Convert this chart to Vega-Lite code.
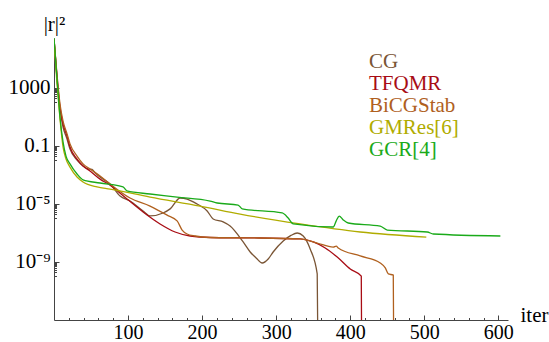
{
  "$schema": "https://vega.github.io/schema/vega-lite/v6.json",
  "autosize": {"type": "none"},
  "width": 454,
  "height": 282,
  "padding": {"left": 54, "top": 38, "right": 41, "bottom": 22},
  "config": {"view": {"stroke": null}, "font": "Liberation Serif"},
  "data": {"values": [
    {"s":"CG","x":0,"y":2.4e6},{"s":"CG","x":4.1,"y":4200},{"s":"CG","x":8.1,"y":35},{"s":"CG","x":12.2,"y":2.0},{"s":"CG","x":17.6,"y":0.30},{"s":"CG","x":21.6,"y":0.062},{"s":"CG","x":31.1,"y":0.0107},{"s":"CG","x":39.2,"y":0.0042},{"s":"CG","x":45.9,"y":0.0026},{"s":"CG","x":51.4,"y":0.0024},{"s":"CG","x":55.4,"y":0.0014},{"s":"CG","x":66.2,"y":5.2e-4},{"s":"CG","x":75.7,"y":2.4e-4},{"s":"CG","x":89.2,"y":3.5e-5},{"s":"CG","x":102.7,"y":1.6e-5},{"s":"CG","x":120.3,"y":3.3e-6},{"s":"CG","x":129.7,"y":1.5e-6},{"s":"CG","x":147.3,"y":2.4e-6},{"s":"CG","x":156.8,"y":4.6e-6},{"s":"CG","x":170.3,"y":2.6e-5},{"s":"CG","x":179.7,"y":2.2e-5},{"s":"CG","x":193.2,"y":1.0e-5},{"s":"CG","x":206.8,"y":3.3e-6},{"s":"CG","x":214.9,"y":9.3e-7},{"s":"CG","x":228.4,"y":5.8e-7},{"s":"CG","x":237.8,"y":3.0e-7},{"s":"CG","x":255.4,"y":2.4e-8},{"s":"CG","x":264.9,"y":4.9e-9},{"s":"CG","x":273,"y":1.9e-9},{"s":"CG","x":281.1,"y":8.5e-10},{"s":"CG","x":289.2,"y":1.6e-9},{"s":"CG","x":295.9,"y":4.9e-9},{"s":"CG","x":309.5,"y":2.8e-8},{"s":"CG","x":320,"y":6.8e-8},{"s":"CG","x":328.4,"y":1.0e-7},{"s":"CG","x":336.5,"y":6.2e-8},{"s":"CG","x":345.9,"y":7.9e-9},{"s":"CG","x":355.4,"y":1.5e-10},{"s":"CG","x":356.5,"y":1e-16},
    {"s":"TFQMR","x":0,"y":2.4e6},{"s":"TFQMR","x":4.1,"y":5700},{"s":"TFQMR","x":8.1,"y":49},{"s":"TFQMR","x":12.2,"y":3.3},{"s":"TFQMR","x":17.6,"y":0.49},{"s":"TFQMR","x":21.6,"y":0.085},{"s":"TFQMR","x":31.1,"y":0.0126},{"s":"TFQMR","x":39.2,"y":0.0042},{"s":"TFQMR","x":48.6,"y":0.0019},{"s":"TFQMR","x":62.2,"y":5.2e-4},{"s":"TFQMR","x":75.7,"y":2.0e-4},{"s":"TFQMR","x":98.6,"y":2.2e-5},{"s":"TFQMR","x":120.3,"y":2.8e-6},{"s":"TFQMR","x":143.2,"y":4.2e-7},{"s":"TFQMR","x":163.5,"y":1.17e-7},{"s":"TFQMR","x":183.8,"y":6.2e-8},{"s":"TFQMR","x":210.8,"y":4.9e-8},{"s":"TFQMR","x":264.9,"y":4.6e-8},{"s":"TFQMR","x":332.4,"y":3.9e-8},{"s":"TFQMR","x":350,"y":2.4e-8},{"s":"TFQMR","x":366.2,"y":9.3e-9},{"s":"TFQMR","x":382.4,"y":2.2e-9},{"s":"TFQMR","x":400,"y":3.3e-10},{"s":"TFQMR","x":414.9,"y":1.07e-10},{"s":"TFQMR","x":415.5,"y":1e-16},
    {"s":"BiCGStab","x":0,"y":2.4e6},{"s":"BiCGStab","x":4.1,"y":7900},{"s":"BiCGStab","x":8.1,"y":79},{"s":"BiCGStab","x":12.2,"y":5.2},{"s":"BiCGStab","x":17.6,"y":0.68},{"s":"BiCGStab","x":21.6,"y":0.14},{"s":"BiCGStab","x":31.1,"y":0.020},{"s":"BiCGStab","x":39.2,"y":0.0058},{"s":"BiCGStab","x":48.6,"y":0.0026},{"s":"BiCGStab","x":62.2,"y":8.5e-4},{"s":"BiCGStab","x":75.7,"y":2.4e-4},{"s":"BiCGStab","x":102.7,"y":2.6e-5},{"s":"BiCGStab","x":129.7,"y":7.2e-6},{"s":"BiCGStab","x":152.7,"y":1.7e-6},{"s":"BiCGStab","x":166.2,"y":6.8e-7},{"s":"BiCGStab","x":173,"y":1.6e-7},{"s":"BiCGStab","x":179.7,"y":8.5e-8},{"s":"BiCGStab","x":190.5,"y":6.2e-8},{"s":"BiCGStab","x":210.8,"y":4.9e-8},{"s":"BiCGStab","x":264.9,"y":4.6e-8},{"s":"BiCGStab","x":332.4,"y":3.9e-8},{"s":"BiCGStab","x":355.4,"y":2.0e-8},{"s":"BiCGStab","x":377,"y":1.07e-8},{"s":"BiCGStab","x":381.1,"y":1.26e-8},{"s":"BiCGStab","x":383.8,"y":9.3e-9},{"s":"BiCGStab","x":413.5,"y":2.6e-9},{"s":"BiCGStab","x":440.5,"y":8.5e-10},{"s":"BiCGStab","x":447.3,"y":3.9e-10},{"s":"BiCGStab","x":451.4,"y":1.5e-10},{"s":"BiCGStab","x":458.1,"y":1.26e-10},{"s":"BiCGStab","x":458.8,"y":1e-16},
    {"s":"GMRes[6]","x":0,"y":1.7e6},{"s":"GMRes[6]","x":4.1,"y":1900},{"s":"GMRes[6]","x":8.1,"y":7.3},{"s":"GMRes[6]","x":12.2,"y":0.085},{"s":"GMRes[6]","x":16.2,"y":0.0126},{"s":"GMRes[6]","x":21.6,"y":0.0035},{"s":"GMRes[6]","x":31.1,"y":7.2e-4},{"s":"GMRes[6]","x":39.2,"y":3.3e-4},{"s":"GMRes[6]","x":58.1,"y":1.5e-4},{"s":"GMRes[6]","x":75.7,"y":1.07e-4},{"s":"GMRes[6]","x":129.7,"y":3.0e-5},{"s":"GMRes[6]","x":197.3,"y":7.2e-6},{"s":"GMRes[6]","x":251.4,"y":2.0e-6},{"s":"GMRes[6]","x":332.4,"y":4.2e-7},{"s":"GMRes[6]","x":413.5,"y":1.17e-7},{"s":"GMRes[6]","x":502.7,"y":5.2e-8},
    {"s":"GCR[4]","x":0,"y":2.8e6},{"s":"GCR[4]","x":4.1,"y":4200},{"s":"GCR[4]","x":8.1,"y":10},{"s":"GCR[4]","x":12.2,"y":0.19},{"s":"GCR[4]","x":16.2,"y":0.020},{"s":"GCR[4]","x":21.6,"y":0.0058},{"s":"GCR[4]","x":31.1,"y":0.00117},{"s":"GCR[4]","x":39.2,"y":4.6e-4},{"s":"GCR[4]","x":62.2,"y":2.8e-4},{"s":"GCR[4]","x":93.2,"y":1.5e-4},{"s":"GCR[4]","x":98.6,"y":7.9e-5},{"s":"GCR[4]","x":129.7,"y":4.9e-5},{"s":"GCR[4]","x":166.2,"y":3.0e-5},{"s":"GCR[4]","x":210.8,"y":1.6e-5},{"s":"GCR[4]","x":220.3,"y":1.17e-5},{"s":"GCR[4]","x":248.6,"y":8.5e-6},{"s":"GCR[4]","x":254.1,"y":4.6e-6},{"s":"GCR[4]","x":308.1,"y":2.4e-6},{"s":"GCR[4]","x":316.2,"y":1.07e-6},{"s":"GCR[4]","x":323,"y":4.2e-7},{"s":"GCR[4]","x":377,"y":2.6e-7},{"s":"GCR[4]","x":381.1,"y":6.8e-7},{"s":"GCR[4]","x":385.1,"y":1.48e-6},{"s":"GCR[4]","x":390.5,"y":8.0e-7},{"s":"GCR[4]","x":397.3,"y":4.9e-7},{"s":"GCR[4]","x":440.5,"y":3.0e-7},{"s":"GCR[4]","x":450,"y":1.6e-7},{"s":"GCR[4]","x":504,"y":1.17e-7},{"s":"GCR[4]","x":512.2,"y":8.5e-8},{"s":"GCR[4]","x":602.7,"y":6.2e-8}
  ]},
  "mark": {"type": "line", "strokeWidth": 1.3, "clip": true, "interpolate": "monotone"},
  "encoding": {
    "x": {
      "field": "x", "type": "quantitative",
      "scale": {"domain": [0, 613], "nice": false, "zero": false},
      "axis": {
        "title": "iter", "titleFont": "Liberation Serif", "titleFontSize": 21, "titleFontWeight": "normal", "titleColor": "#000",
        "titleX": 466, "titleY": -5, "titleAlign": "left", "titleBaseline": "middle", "titleAnchor": null, "titleAngle": 0,
        "values": [20,40,60,80,100,120,140,160,180,200,220,240,260,280,300,320,340,360,380,400,420,440,460,480,500,520,540,560,580,600],
        "labelExpr": "datum.value % 100 === 0 ? datum.value + '' : ''",
        "tickSize": {"expr": "datum.value % 100 === 0 ? -5 : -2.5"},
        "labelPadding": 23,
        "labelBaseline": "alphabetic",
        "labelFont": "Liberation Serif", "labelFontSize": 20, "labelColor": "#000",
        "labelFlush": false, "labelOverlap": false, "labelBound": false,
        "domainColor": "#444", "tickColor": "#444", "domainWidth": 1, "tickWidth": 1, "grid": false
      }
    },
    "y": {
      "field": "y", "type": "quantitative",
      "scale": {"type": "log", "domain": [1e-13, 2.8e6], "nice": false},
      "axis": {
        "title": "|r|²", "titleFont": "Liberation Serif", "titleFontSize": 21, "titleFontWeight": "normal", "titleColor": "#000",
        "titleAngle": 0, "titleX": 0, "titleY": -14, "titleAlign": "center", "titleBaseline": "middle", "titleAnchor": null,
        "values": [1000,900,800,700,600,500,400,300,200,100,0.1,0.09,0.08,0.07,0.06,0.05,0.04,0.03,0.02,0.01,1e-5,9e-6,8e-6,7e-6,6e-6,5e-6,4e-6,3e-6,2e-6,1e-6,1e-9,9e-10,8e-10,7e-10,6e-10,5e-10,4e-10,3e-10,2e-10,1e-10],
        "labelExpr": "abs(log(datum.value)/LN10-3)<0.001 ? '1000' : abs(log(datum.value)/LN10+1)<0.001 ? '0.1' : abs(log(datum.value)/LN10+5)<0.001 ? '10⁻⁵' : abs(log(datum.value)/LN10+9)<0.001 ? '10⁻⁹' : ''",
        "tickSize": {"expr": "(abs(log(datum.value)/LN10-3)<0.001 || abs(log(datum.value)/LN10+1)<0.001 || abs(log(datum.value)/LN10+5)<0.001 || abs(log(datum.value)/LN10+9)<0.001) ? -5 : -2.5"},
        "labelPadding": 9,
        "labelFont": "Liberation Serif", "labelFontSize": 21, "labelColor": "#000",
        "labelFlush": false, "labelOverlap": false, "labelBound": false,
        "domainColor": "#444", "tickColor": "#444", "domainWidth": 1, "tickWidth": 1, "grid": false
      }
    },
    "color": {
      "field": "s", "type": "nominal",
      "scale": {"domain": ["CG","TFQMR","BiCGStab","GMRes[6]","GCR[4]"], "range": ["#7a5535","#a80c14","#b0601e","#b0ac00","#1aaa1a"]},
      "legend": {
        "title": null, "orient": "none", "legendX": 294, "legendY": 13,
        "symbolSize": 0, "symbolStrokeWidth": 0, "symbolOpacity": 0, "labelOffset": 0,
        "labelFont": "Liberation Serif", "labelFontSize": 21, "rowPadding": 0,
        "labelColor": {"expr": "scale('color', datum.value)"}
      }
    }
  }
}
